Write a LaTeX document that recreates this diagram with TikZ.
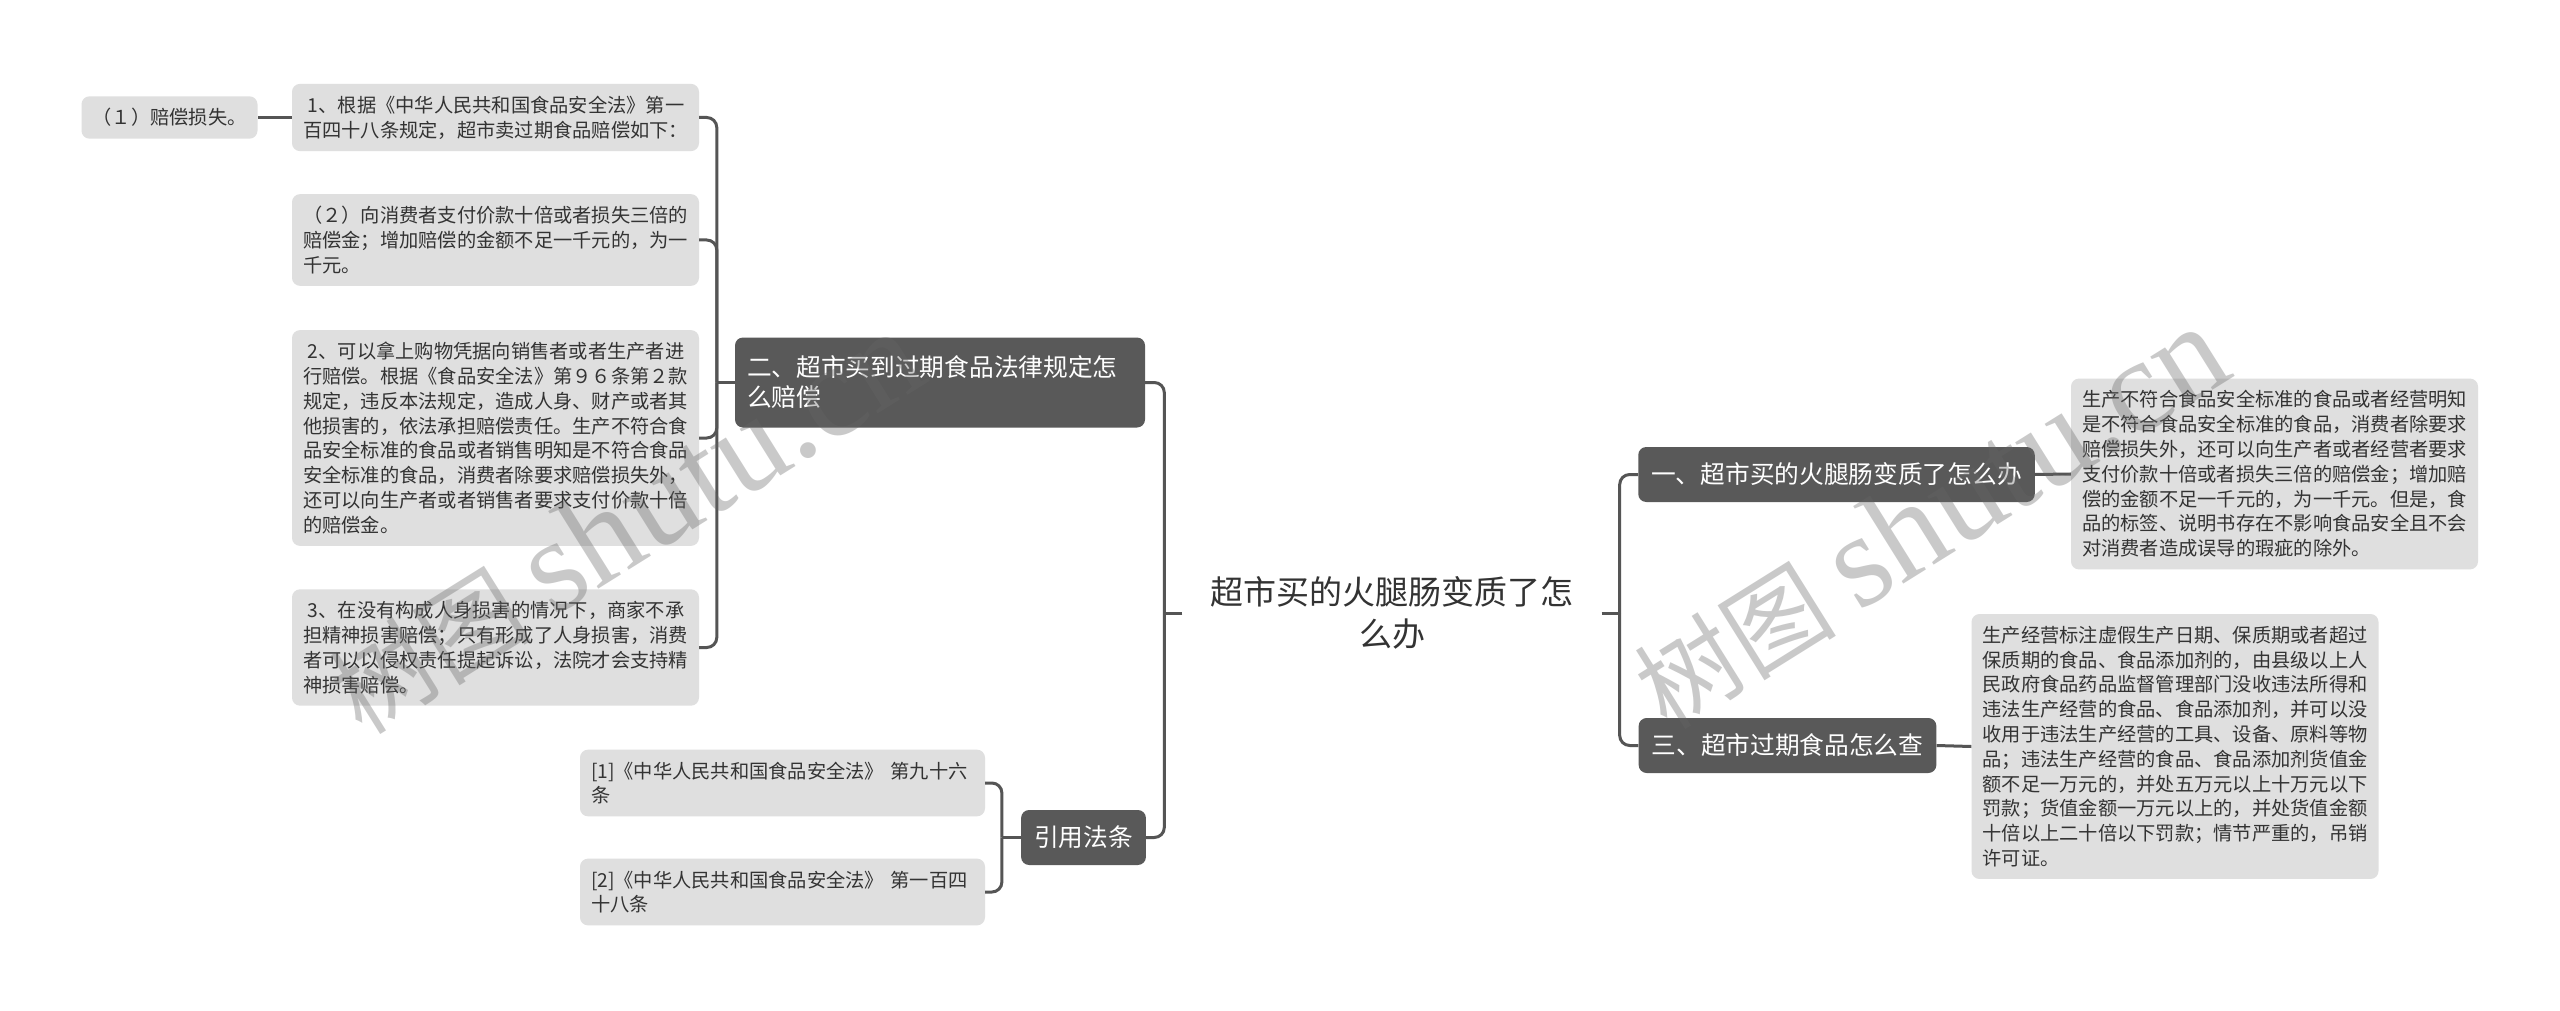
\documentclass[tikz,border=0pt]{standalone}
\usepackage{fontspec}
\setmainfont{Noto Sans CJK SC}
\newfontfamily\marklatin{Liberation Serif}
\definecolor{linegray}{HTML}{555555}
\definecolor{headgray}{HTML}{595959}
\definecolor{leafgray}{HTML}{DFDFDF}
\definecolor{textdark}{HTML}{333333}

\begin{document}
\begin{tikzpicture}[x=1pt, y=-1pt,
  leaf/.style={fill=leafgray, rounded corners=8pt, text=textdark, align=left,
    inner xsep=11pt, inner ysep=12pt, font=\fontsize{19.25pt}{24.8pt}\selectfont},
  wide/.style={leaf, text width=385pt},
  head/.style={fill=headgray, rounded corners=8pt, text=white, align=left,
    inner xsep=13pt, minimum height=55pt, font=\fontsize{24.7pt}{30pt}\selectfont},
  link/.style={draw=linegray, line width=3pt, rounded corners=10pt},
  wmark/.style={text=black!60, text opacity=0.35, rotate=32,
    font=\fontsize{101pt}{101pt}\selectfont}]
\fill[white] (0,0) rectangle (2560,1011);
\useasboundingbox (0,0) rectangle (2560,1011);

% centre topic
\node[text=textdark, align=center, inner xsep=28pt,
  font=\fontsize{33pt}{42pt}\selectfont] (root) at (1392,613)
  {超市买的火腿肠变质了怎\\么办};

% left: 二 and its items
\node[head, text width=386pt, inner xsep=12pt, minimum height=90pt] (b2) at (940,382.5)
  {二、超市买到过期食品法律规定怎\\么赔偿};
\node[wide] (a1) at (495.5,117.5)
  {\hspace*{.25em}1、根据《中华人民共和国食品安全法》第一\\百四十八条规定，超市卖过期食品赔偿如下：};
\node[leaf] (l1) at (169.5,117.5) {（１）赔偿损失。};
\node[wide] (a2) at (495.5,240)
  {（２）向消费者支付价款十倍或者损失三倍的\\赔偿金；增加赔偿的金额不足一千元的，为一\\千元。};
\node[wide] (a3) at (495.5,438)
  {\hspace*{.25em}2、可以拿上购物凭据向销售者或者生产者进\\行赔偿。根据《食品安全法》第９６条第２款\\规定，违反本法规定，造成人身、财产或者其\\他损害的，依法承担赔偿责任。生产不符合食\\品安全标准的食品或者销售明知是不符合食品\\安全标准的食品，消费者除要求赔偿损失外，\\还可以向生产者或者销售者要求支付价款十倍\\的赔偿金。};
\node[wide] (a4) at (495.5,647.5)
  {\hspace*{.25em}3、在没有构成人身损害的情况下，商家不承\\担精神损害赔偿；只有形成了人身损害，消费\\者可以以侵权责任提起诉讼，法院才会支持精\\神损害赔偿。};

% left: cited laws
\node[head] (cite) at (1083.5,837.5) {引用法条};
\node[leaf, text width=383pt] (c1) at (782.5,783)
  {[1]《中华人民共和国食品安全法》 第九十六\\条};
\node[leaf, text width=383pt] (c2) at (782.5,892)
  {[2]《中华人民共和国食品安全法》 第一百四\\十八条};

% right side
\node[head] (r1h) at (1836.5,474.5) {一、超市买的火腿肠变质了怎么办};
\node[wide] (r1) at (2274.5,474)
  {生产不符合食品安全标准的食品或者经营明知\\是不符合食品安全标准的食品，消费者除要求\\赔偿损失外，还可以向生产者或者经营者要求\\支付价款十倍或者损失三倍的赔偿金；增加赔\\偿的金额不足一千元的，为一千元。但是，食\\品的标签、说明书存在不影响食品安全且不会\\对消费者造成误导的瑕疵的除外。};
\node[head] (r3h) at (1787.5,745.5) {三、超市过期食品怎么查};
\node[wide] (r3) at (2175,746.5)
  {生产经营标注虚假生产日期、保质期或者超过\\保质期的食品、食品添加剂的，由县级以上人\\民政府食品药品监督管理部门没收违法所得和\\违法生产经营的食品、食品添加剂，并可以没\\收用于违法生产经营的工具、设备、原料等物\\品；违法生产经营的食品、食品添加剂货值金\\额不足一万元的，并处五万元以上十万元以下\\罚款；货值金额一万元以上的，并处货值金额\\十倍以上二十倍以下罚款；情节严重的，吊销\\许可证。};

% trunks
\coordinate (tL) at ([xshift=-18pt]root.west);
\coordinate (tR) at ([xshift=18pt]root.east);
\coordinate (t2) at ([xshift=-18pt]b2.west);
\coordinate (tC) at ([xshift=-19pt]cite.west);

\draw[link] (root.west) -- (tL);
\draw[link] (tL) |- (b2.east);
\draw[link] (tL) |- (cite.east);
\draw[link] (root.east) -- (tR);
\draw[link] (tR) |- (r1h.west);
\draw[link] (tR) |- (r3h.west);

\draw[link] (b2.west) -- (t2);
\foreach \n in {a1,a2,a3,a4}
  \draw[link] (t2) |- (\n.east);
\draw[link] (a1.west) -- (l1.east);

\draw[link] (cite.west) -- (tC);
\draw[link] (tC) |- (c1.east);
\draw[link] (tC) |- (c2.east);

\draw[link] (r1h.east) -- (r1.west);
\draw[link] (r3h.east) -- (r3.west);

% watermark
\node[wmark] (wm1) at (625,523) {树图 {\marklatin\fontsize{133pt}{133pt}\selectfont shutu.cn}};
\node[wmark] (wm2) at (1930,518) {树图 {\marklatin\fontsize{133pt}{133pt}\selectfont shutu.cn}};
\end{tikzpicture}
\end{document}
